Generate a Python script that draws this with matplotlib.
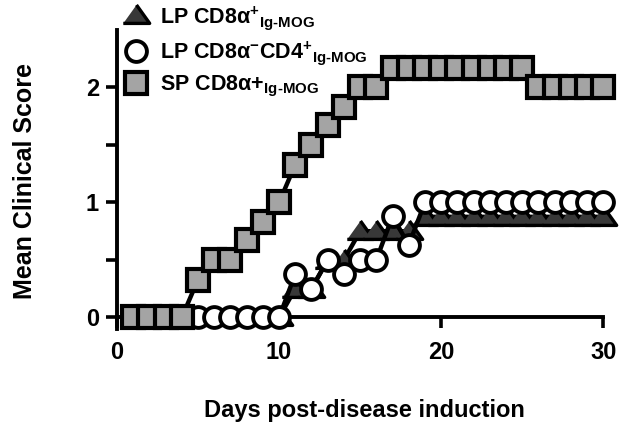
import matplotlib.pyplot as plt
from matplotlib.lines import Line2D

plt.rcParams['font.family'] = ['Liberation Sans', 'DejaVu Sans']
plt.rcParams['font.weight'] = 'bold'
plt.rcParams['mathtext.fontset'] = 'custom'
plt.rcParams['mathtext.rm'] = 'Liberation Sans:bold'
plt.rcParams['mathtext.it'] = 'Liberation Sans:bold'
plt.rcParams['mathtext.bf'] = 'Liberation Sans:bold'
plt.rcParams['mathtext.default'] = 'rm'

# days post-disease induction
days = list(range(1, 31))

# mean clinical score per group
lp_cd8 = [0] * 10 + [0.25, 0.25, 0.5, 0.5, 0.75, 0.75, 0.75, 0.75] + [0.875] * 12
lp_cd4 = [0] * 10 + [0.38, 0.25, 0.5, 0.38, 0.5, 0.5, 0.88, 0.63] + [1.0] * 12
sp_cd8 = [0, 0, 0, 0, 0.33, 0.5, 0.5, 0.67, 0.83, 1.0, 1.33, 1.5, 1.67, 1.83, 2.0, 2.0] + [2.17] * 9 + [2.0] * 5

labels = [
    'LP CD8\u03b1$^{+}$$_{Ig\u2010MOG}$',
    'LP CD8\u03b1$^{-}$CD4$^{+}$$_{Ig\u2010MOG}$',
    'SP CD8\u03b1+$_{Ig\u2010MOG}$',
]
x_ticks = [0, 10, 20, 30]
y_ticks = [0, 0.5, 1, 1.5, 2]
y_ticklabels = ['0', '', '1', '', '2']

tri = [(-1, -0.6), (1, -0.6), (0, 0.8)]
styles = [
    dict(marker=tri, ms=19, mfc='#383838', mew=2.4),
    dict(marker='o', ms=15, mfc='white', mew=2.8),
    dict(marker='s', ms=16.5, mfc='#a4a4a4', mew=3.0),
]

fig = plt.figure(figsize=(6.29, 4.34), dpi=100)
ax = fig.add_axes([0.186, 0.242, 0.773, 0.689])

for i, vals in enumerate([lp_cd8, lp_cd4, sp_cd8]):
    ax.plot(days, vals, color='black', lw=3.2, mec='black', clip_on=False,
            zorder=3 + i, **styles[i])

ax.set_xlim(0, 30)
ax.set_ylim(-0.1, 2.5)
ax.set_xticks(x_ticks)
ax.set_yticks(y_ticks)
ax.set_yticklabels(y_ticklabels)
ax.spines['top'].set_visible(False)
ax.spines['right'].set_visible(False)
ax.spines['bottom'].set_position(('data', 0))
for s in ['left', 'bottom']:
    ax.spines[s].set_linewidth(2.8)
ax.tick_params(axis='both', direction='out', length=8, width=2.6, labelsize=17)
ax.tick_params(axis='x', pad=9)
ax.tick_params(axis='y', pad=5)

fig.text(0.579, 0.055, 'Days post-disease induction', ha='center', va='center',
         fontsize=17, fontweight='bold')
fig.text(0.04, 0.583, 'Mean Clinical Score', ha='center', va='center',
         rotation=90, fontsize=18, fontweight='bold')

handles = [Line2D([], [], ls='none', mec='black', **st) for st in styles]
ax.legend(handles, labels, loc='upper left', bbox_to_anchor=(122 / 629, 1 - 4 / 434),
          bbox_transform=fig.transFigure, frameon=False, fontsize=15.5,
          handlelength=1.3, handletextpad=0.45, labelspacing=0.35,
          borderpad=0, borderaxespad=0)

fig.savefig('out.png', dpi=100)
